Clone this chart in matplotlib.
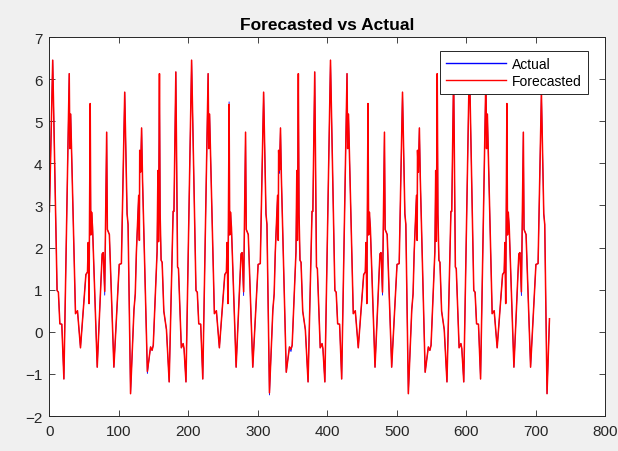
# -*- coding: utf-8 -*-
import numpy as np
import matplotlib.pyplot as plt

# 数据：时间点（小时）与实际值/预测值（从图中读取的折线顶点）
hours = [
    0.0, 4.7, 11.0, 12.9, 15.0, 17.8, 20.8, 28.5, 29.4, 30.6, 37.5,
    40.4, 44.7, 52.5, 54.8, 55.8, 57.0, 58.7, 59.6, 60.7, 62.1,
    68.8, 75.9, 77.5, 79.6, 82.4, 83.4, 86.3, 92.8, 100.5, 103.6,
    108.4, 111.8, 113.2, 116.8, 121.7, 123.6, 125.2, 128.5, 129.5, 130.0,
    131.2, 132.7, 134.0, 141.0, 145.6, 147.8, 149.5, 155.0, 156.2, 157.1,
    158.4, 159.4, 160.8, 162.3, 164.7, 168.5, 172.4, 178.1, 179.3, 182.0,
    184.5, 185.8, 189.9, 192.5, 193.8, 196.6,
    204.7, 211.0, 212.9, 215.0, 217.8, 220.8, 228.5, 229.4, 230.6, 237.5,
    240.4, 244.7, 252.5, 254.8, 255.8, 257.0, 258.7, 259.6, 260.7, 262.1,
    268.8, 275.9, 277.5, 279.6, 282.4, 283.4, 286.3, 292.8, 300.5, 303.6,
    308.4, 311.8, 313.2, 316.8, 321.7, 323.6, 325.2, 328.5, 329.5, 330.0,
    331.2, 332.7, 334.0, 341.0, 345.6, 347.8, 349.5, 355.0, 356.2, 357.1,
    358.4, 359.4, 360.8, 362.3, 364.7, 368.5, 372.4, 378.1, 379.3, 382.0,
    384.5, 385.8, 389.9, 392.5, 393.8, 396.6,
    404.7, 411.0, 412.9, 415.0, 417.8, 420.8, 428.5, 429.4, 430.6, 437.5,
    440.4, 444.7, 452.5, 454.8, 455.8, 457.0, 458.7, 459.6, 460.7, 462.1,
    468.8, 475.9, 477.5, 479.6, 482.4, 483.4, 486.3, 492.8, 500.5, 503.6,
    508.4, 511.8, 513.2, 516.8, 521.7, 523.6, 525.2, 528.5, 529.5, 530.0,
    531.2, 532.7, 534.0, 541.0, 545.6, 547.8, 549.5, 555.0, 556.2, 557.1,
    558.4, 559.4, 560.8, 562.3, 564.7, 568.5, 572.4, 578.1, 579.3, 582.0,
    584.5, 585.8, 589.9, 592.5, 593.8, 596.6,
    604.7, 611.0, 612.9, 615.0, 617.8, 620.8, 628.5, 629.4, 630.6, 637.5,
    640.4, 644.7, 652.5, 654.8, 655.8, 657.0, 658.7, 659.6, 660.7, 662.1,
    668.8, 675.9, 677.5, 679.6, 682.4, 683.4, 686.3, 692.8, 700.5, 703.6,
    708.4, 711.8, 713.2, 716.5, 720.0,
]

actual = [
    2.85, 6.45, 0.98, 0.94, 0.19, 0.18, -1.12, 6.13, 4.35, 5.17, 0.43,
    0.50, -0.38, 1.36, 1.42, 2.12, 0.67, 5.42, 2.30, 2.84, 2.47,
    -0.84, 1.85, 1.88, 0.87, 4.74, 2.43, 2.31, -0.84, 1.60, 1.62,
    5.69, 2.80, 2.55, -1.47, 0.52, 0.90, 1.89, 3.24, 2.17, 4.31,
    3.79, 4.84, 3.65, -0.99, -0.36, -0.44, -0.32, 1.90, 3.83, 2.22,
    6.13, 2.80, 1.70, 1.65, 0.49, 0.05, -1.19, 2.86, 2.86, 6.17,
    1.54, 1.50, -0.38, -0.28, -0.40, -1.19,
    6.45, 0.98, 0.94, 0.19, 0.18, -1.12, 6.13, 4.35, 5.17, 0.43,
    0.50, -0.38, 1.36, 1.42, 2.12, 0.67, 5.46, 2.30, 2.84, 2.47,
    -0.84, 1.85, 1.88, 0.86, 4.74, 2.43, 2.31, -0.84, 1.60, 1.62,
    5.69, 2.80, 2.55, -1.50, 0.52, 0.90, 1.89, 3.24, 2.17, 4.31,
    3.76, 4.84, 3.65, -0.96, -0.36, -0.47, -0.32, 1.90, 3.83, 2.17,
    6.13, 2.80, 1.70, 1.65, 0.49, 0.05, -1.19, 2.86, 2.86, 6.17,
    1.54, 1.50, -0.38, -0.28, -0.40, -1.19,
    6.45, 0.98, 0.94, 0.19, 0.18, -1.12, 6.13, 4.35, 5.17, 0.43,
    0.50, -0.38, 1.36, 1.42, 2.12, 0.67, 5.42, 2.30, 2.84, 2.47,
    -0.84, 1.85, 1.88, 0.87, 4.74, 2.43, 2.31, -0.84, 1.60, 1.62,
    5.69, 2.80, 2.55, -1.47, 0.52, 0.90, 1.89, 3.24, 2.17, 4.31,
    3.79, 4.84, 3.65, -0.96, -0.36, -0.44, -0.32, 1.90, 3.83, 2.20,
    6.13, 2.80, 1.70, 1.65, 0.49, 0.05, -1.19, 2.86, 2.86, 6.17,
    1.54, 1.50, -0.38, -0.28, -0.40, -1.19,
    6.45, 0.98, 0.94, 0.19, 0.18, -1.12, 6.13, 4.35, 5.17, 0.43,
    0.50, -0.38, 1.36, 1.42, 2.12, 0.67, 5.42, 2.30, 2.84, 2.47,
    -0.84, 1.85, 1.88, 0.86, 4.74, 2.43, 2.31, -0.84, 1.60, 1.62,
    5.69, 2.80, 2.55, -1.47, 0.31,
]

forecast = [
    2.85, 6.45, 0.98, 0.94, 0.19, 0.18, -1.12, 6.13, 4.35, 5.17, 0.43,
    0.50, -0.38, 1.36, 1.42, 2.12, 0.67, 5.42, 2.30, 2.84, 2.47,
    -0.84, 1.85, 1.88, 0.96, 4.74, 2.43, 2.31, -0.84, 1.60, 1.62,
    5.69, 2.80, 2.55, -1.47, 0.52, 0.90, 1.89, 3.24, 2.17, 4.31,
    3.79, 4.84, 3.65, -0.94, -0.36, -0.44, -0.32, 1.90, 3.83, 2.14,
    6.13, 2.80, 1.70, 1.65, 0.49, 0.05, -1.19, 2.86, 2.86, 6.17,
    1.54, 1.50, -0.38, -0.28, -0.40, -1.19,
    6.45, 0.98, 0.94, 0.19, 0.18, -1.12, 6.13, 4.35, 5.17, 0.43,
    0.50, -0.38, 1.36, 1.42, 2.12, 0.67, 5.40, 2.30, 2.84, 2.47,
    -0.84, 1.85, 1.88, 0.95, 4.74, 2.43, 2.31, -0.84, 1.60, 1.62,
    5.69, 2.80, 2.55, -1.45, 0.52, 0.90, 1.89, 3.24, 2.17, 4.31,
    3.84, 4.84, 3.65, -0.96, -0.36, -0.41, -0.32, 1.90, 3.83, 2.17,
    6.13, 2.80, 1.70, 1.65, 0.49, 0.05, -1.19, 2.86, 2.86, 6.17,
    1.54, 1.50, -0.38, -0.28, -0.40, -1.19,
    6.45, 0.98, 0.94, 0.19, 0.18, -1.12, 6.13, 4.35, 5.17, 0.43,
    0.50, -0.38, 1.36, 1.42, 2.12, 0.67, 5.42, 2.30, 2.84, 2.47,
    -0.84, 1.85, 1.88, 0.94, 4.74, 2.43, 2.31, -0.84, 1.60, 1.62,
    5.69, 2.80, 2.55, -1.47, 0.52, 0.90, 1.89, 3.24, 2.17, 4.31,
    3.79, 4.84, 3.65, -0.96, -0.36, -0.44, -0.32, 1.90, 3.83, 2.15,
    6.13, 2.80, 1.70, 1.65, 0.49, 0.05, -1.19, 2.86, 2.86, 6.17,
    1.54, 1.50, -0.38, -0.28, -0.40, -1.19,
    6.45, 0.98, 0.94, 0.19, 0.18, -1.12, 6.13, 4.35, 5.17, 0.43,
    0.50, -0.38, 1.36, 1.42, 2.12, 0.67, 5.42, 2.30, 2.84, 2.47,
    -0.84, 1.85, 1.88, 0.95, 4.74, 2.43, 2.31, -0.84, 1.60, 1.62,
    5.69, 2.80, 2.55, -1.47, 0.31,
]

x_ticks = [0, 100, 200, 300, 400, 500, 600, 700, 800]
y_ticks = [-2, -1, 0, 1, 2, 3, 4, 5, 6, 7]

plt.rcParams['font.family'] = ['Liberation Sans', 'DejaVu Sans']

fig = plt.figure(figsize=(6.18, 4.52), dpi=100, facecolor='#f0f0f0')
ax = fig.add_axes([0.080, 0.0774, 0.899, 0.8385])

# 蓝线细一些放在下面，红线盖在上面
ax.plot(hours, actual, color='#0000ff', lw=0.6, label='Actual')
ax.plot(hours, forecast, color='#ff0000', lw=1.1, label='Forecasted')

ax.set_xlim(0, 800)
ax.set_ylim(-2, 7)
ax.set_xticks(x_ticks)
ax.set_yticks(y_ticks)
ax.tick_params(axis='both', direction='in', top=True, right=True, length=4,
               width=0.6, labelsize=11, colors='#262626')
ax.tick_params(axis='x', pad=6)
ax.tick_params(axis='y', pad=5)
for s in ax.spines.values():
    s.set_linewidth(0.7)
    s.set_color('#262626')

ax.set_title('Forecasted vs Actual', fontsize=12.5, fontweight='bold', pad=6)

leg = ax.legend(loc='upper right', bbox_to_anchor=(0.969, 0.963), fancybox=False,
                edgecolor='#262626', framealpha=1, fontsize=10, handlelength=4.3,
                borderpad=0.45, labelspacing=0.2, handletextpad=0.45,
                borderaxespad=0)
leg.get_frame().set_linewidth(0.7)
for line in leg.get_lines():
    line.set_linewidth(1.0)

fig.savefig('out.png', dpi=100, facecolor=fig.get_facecolor())
